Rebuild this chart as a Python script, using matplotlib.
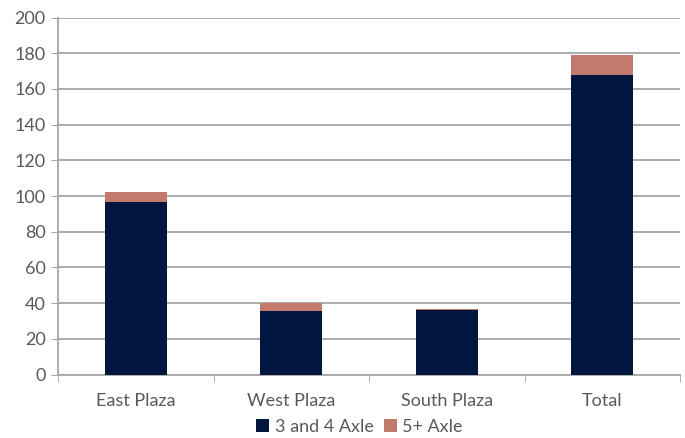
import matplotlib.pyplot as plt
import numpy as np

# данные
plazas = ["East Plaza", "West Plaza", "South Plaza", "Total"]
axle_3_4 = [96.5, 35.5, 36.0, 168.0]
axle_5_plus = [5.5, 4.5, 0.9, 10.8]

navy = "#00163F"
pink = "#C27A6C"
text_gray = "#595959"

plt.rcParams['font.family'] = ['Lato', 'DejaVu Sans']

fig = plt.figure(figsize=(6.85, 4.38), dpi=100)
ax = fig.add_axes([58 / 685, 1 - 374.5 / 438, 622 / 685, 357 / 438])

x = np.arange(len(plazas))
ax.bar(x, axle_3_4, width=0.4, color=navy, label="3 and 4 Axle", zorder=3)
ax.bar(x, axle_5_plus, width=0.4, bottom=axle_3_4, color=pink,
       label="5+ Axle", zorder=3)

ax.set_xlim(-0.5, len(plazas) - 0.5)
ax.set_ylim(0, 200)
ax.set_yticks(range(0, 201, 20))
ax.yaxis.grid(True, color="#A6A6A6", linewidth=1.3, zorder=0)

# подписи категорий по центру, засечки на границах
ax.set_xticks(x)
ax.set_xticklabels(plazas)
ax.set_xticks(np.arange(-0.5, len(plazas), 1), minor=True)
ax.tick_params(axis="x", which="major", length=0, pad=13,
               labelsize=13, labelcolor=text_gray)
ax.tick_params(axis="x", which="minor", length=5, color="#A6A6A6")
ax.tick_params(axis="y", length=5, color="#A6A6A6", labelsize=13,
               labelcolor=text_gray, pad=4)

for side in ["top", "right"]:
    ax.spines[side].set_visible(False)
for side in ["left", "bottom"]:
    ax.spines[side].set_color("#A6A6A6")
    ax.spines[side].set_linewidth(1.3)

fig.legend(loc="center", bbox_to_anchor=(0.525, 1 - 427 / 438), ncol=2,
           frameon=False, fontsize=13, labelcolor=text_gray,
           handlelength=0.7, handleheight=0.7, handletextpad=0.3,
           columnspacing=0.6, borderpad=0)

fig.savefig("out.png", dpi=100)
